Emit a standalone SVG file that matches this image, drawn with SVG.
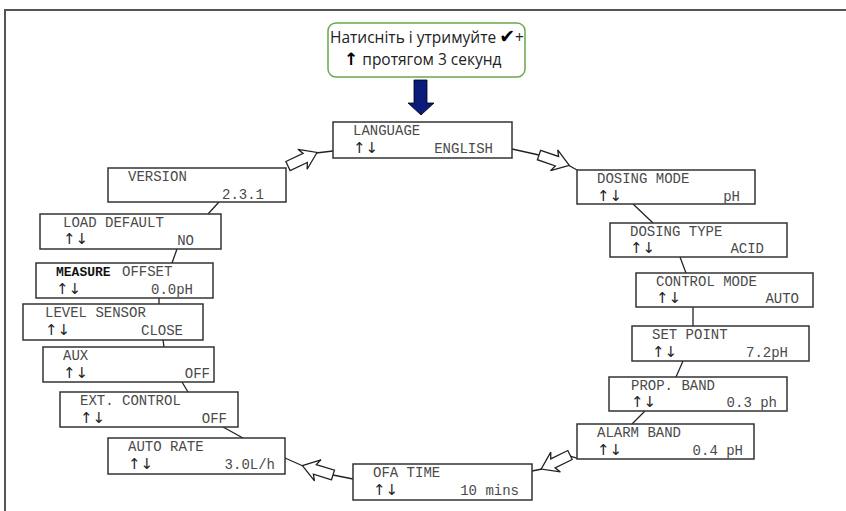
<svg xmlns="http://www.w3.org/2000/svg" width="846" height="511" viewBox="0 0 846 511">
<style>
.box{fill:#fff;stroke:#333;stroke-width:1.5}
.t{font-family:"Liberation Mono","DejaVu Sans Mono",monospace;font-size:14px;fill:#4a4a4a}
.v{text-anchor:end}
.ar{font-family:"DejaVu Sans",sans-serif;font-size:15px;fill:#222}
.b{font-family:"Liberation Mono","DejaVu Sans Mono",monospace;font-size:13px;font-weight:bold;fill:#111}
.ln{stroke:#222;stroke-width:1.3;fill:none}
.ha{fill:#fff;stroke:#222;stroke-width:1.3;stroke-linejoin:miter}
.call{font-family:"Open Sans","Noto Sans",sans-serif;font-size:15.5px;fill:#222}
.sym{font-family:"DejaVu Sans",sans-serif;font-weight:bold;fill:#000}
</style>
<defs>
<polygon id="harrow" points="0,-5 19,-5 16,-11 32,0 16,11 19,5 0,5"/>
</defs>
<rect width="846" height="511" fill="#fff"/>
<path d="M5,511 V10 H846" fill="none" stroke="#555" stroke-width="2"/>

<g id="start-callout">
<rect x="328" y="23" width="197" height="54" rx="8" fill="#fff" stroke="#6aa84f" stroke-width="1.5"/>
<text class="call" x="330" y="43">Натисніть і утримуйте<tspan class="sym" font-size="19" dx="3">✔</tspan>+</text>
<text class="call" x="344" y="65"><tspan class="sym" font-size="17">↑</tspan> протягом 3 секунд</text>
</g>

<g id="connectors">
<polygon points="414,80 427,80 427,103 434,103 421,115 408,103 414,103" fill="#0c1a7c" stroke="#000" stroke-width="0.8"/>
<line class="ln" x1="219" y1="202" x2="208" y2="214"/>
<line class="ln" x1="177" y1="249" x2="172" y2="263"/>
<line class="ln" x1="159" y1="298" x2="159" y2="304"/>
<line class="ln" x1="163" y1="340" x2="164" y2="347"/>
<line class="ln" x1="182" y1="382" x2="188" y2="392"/>
<line class="ln" x1="223" y1="427" x2="243" y2="438"/>
<line class="ln" x1="633" y1="204" x2="653" y2="223"/>
<line class="ln" x1="680" y1="257" x2="686" y2="273"/>
<line class="ln" x1="693" y1="307" x2="693" y2="326"/>
<line class="ln" x1="683" y1="361" x2="676" y2="377"/>
<line class="ln" x1="645" y1="411" x2="632" y2="424"/>
<line class="ln" x1="316" y1="153" x2="333" y2="151"/>
<line class="ln" x1="512" y1="149" x2="539" y2="155"/>
<line class="ln" x1="568" y1="165" x2="577" y2="170"/>
<line class="ln" x1="577" y1="458" x2="570" y2="456"/>
<line class="ln" x1="542" y1="469" x2="532" y2="471"/>
<line class="ln" x1="353" y1="479" x2="333" y2="475"/>
<line class="ln" x1="303" y1="466" x2="285" y2="458"/>
<use href="#harrow" class="ha" transform="translate(288,166) rotate(-25)"/>
<use href="#harrow" class="ha" transform="translate(539,155) rotate(19)"/>
<use href="#harrow" class="ha" transform="translate(570,455) rotate(154)"/>
<use href="#harrow" class="ha" transform="translate(333,475) rotate(197)"/>
</g>

<g id="language">
<rect class="box" x="333" y="122" width="179" height="36"/>
<text class="t" x="353" y="135">LANGUAGE</text>
<text class="ar" x="353" y="153">↑↓</text>
<text class="t v" x="493" y="153">ENGLISH</text>
</g>
<g id="dosing-mode">
<rect class="box" x="577" y="170" width="178" height="34"/>
<text class="t" x="597" y="183">DOSING MODE</text>
<text class="ar" x="597" y="201">↑↓</text>
<text class="t v" x="740" y="201">pH</text>
</g>
<g id="dosing-type">
<rect class="box" x="610" y="223" width="177" height="34"/>
<text class="t" x="630" y="236">DOSING TYPE</text>
<text class="ar" x="630" y="253">↑↓</text>
<text class="t v" x="764" y="253">ACID</text>
</g>
<g id="control-mode">
<rect class="box" x="636" y="273" width="177" height="34"/>
<text class="t" x="656" y="286">CONTROL MODE</text>
<text class="ar" x="656" y="303">↑↓</text>
<text class="t v" x="799" y="303">AUTO</text>
</g>
<g id="set-point">
<rect class="box" x="632" y="326" width="177" height="35"/>
<text class="t" x="652" y="339">SET POINT</text>
<text class="ar" x="652" y="357">↑↓</text>
<text class="t v" x="788" y="357">7.2pH</text>
</g>
<g id="prop-band">
<rect class="box" x="609" y="377" width="178" height="34"/>
<text class="t" x="631" y="390">PROP. BAND</text>
<text class="ar" x="631" y="407">↑↓</text>
<text class="t v" x="777" y="407">0.3 ph</text>
</g>
<g id="alarm-band">
<rect class="box" x="577" y="424" width="177" height="35"/>
<text class="t" x="597" y="437">ALARM BAND</text>
<text class="ar" x="597" y="455">↑↓</text>
<text class="t v" x="743" y="455">0.4 pH</text>
</g>
<g id="ofa-time">
<rect class="box" x="353" y="464" width="179" height="36"/>
<text class="t" x="373" y="477">OFA TIME</text>
<text class="ar" x="373" y="495">↑↓</text>
<text class="t v" x="519" y="495">10 mins</text>
</g>
<g id="auto-rate">
<rect class="box" x="108" y="438" width="177" height="36"/>
<text class="t" x="128" y="451">AUTO RATE</text>
<text class="ar" x="128" y="469">↑↓</text>
<text class="t v" x="275" y="469">3.0L/h</text>
</g>
<g id="ext-control">
<rect class="box" x="60" y="392" width="178" height="35"/>
<text class="t" x="80" y="405">EXT. CONTROL</text>
<text class="ar" x="80" y="423">↑↓</text>
<text class="t v" x="227" y="423">OFF</text>
</g>
<g id="aux">
<rect class="box" x="43" y="347" width="171" height="35"/>
<text class="t" x="63" y="360">AUX</text>
<text class="ar" x="63" y="378">↑↓</text>
<text class="t v" x="210" y="378">OFF</text>
</g>
<g id="level-sensor">
<rect class="box" x="23" y="304" width="180" height="36"/>
<text class="t" x="45" y="317">LEVEL SENSOR</text>
<text class="ar" x="45" y="335">↑↓</text>
<text class="t v" x="183" y="335">CLOSE</text>
</g>
<g id="measure-offset">
<rect class="box" x="36" y="263" width="177" height="35"/>
<text class="b" x="56" y="276">MEASURE</text>
<text class="t" x="122" y="276">OFFSET</text>
<text class="ar" x="56" y="294">↑↓</text>
<text class="t v" x="193" y="294">0.0pH</text>
</g>
<g id="load-default">
<rect class="box" x="40" y="214" width="181" height="35"/>
<text class="t" x="63" y="227">LOAD DEFAULT</text>
<text class="ar" x="63" y="244">↑↓</text>
<text class="t v" x="194" y="245">NO</text>
</g>
<g id="version">
<rect class="box" x="108" y="168" width="178" height="34"/>
<text class="t" x="128" y="181">VERSION</text>
<text class="t v" x="264" y="199">2.3.1</text>
</g>
</svg>
